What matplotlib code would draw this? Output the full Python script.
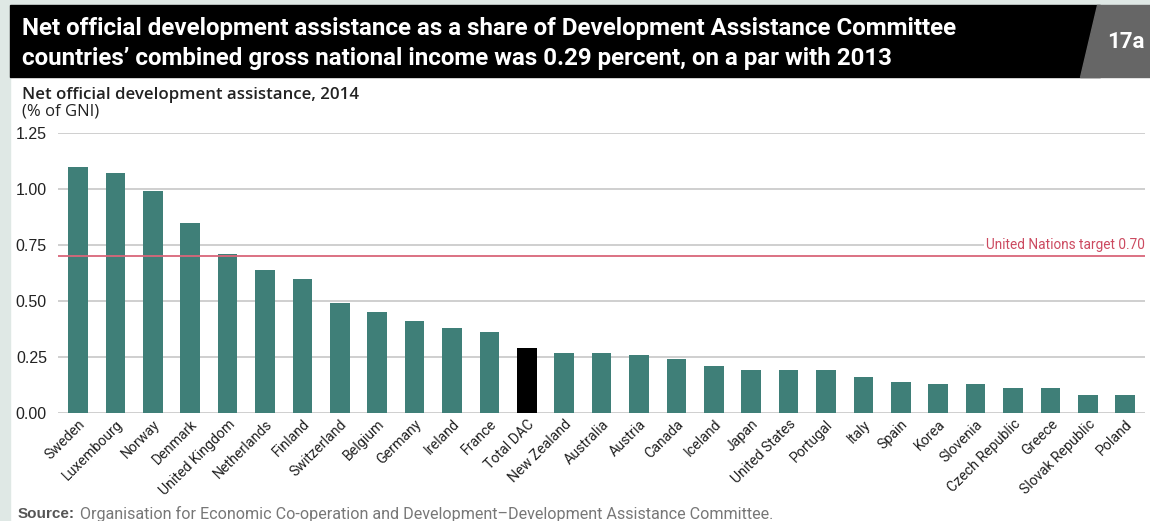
import matplotlib
matplotlib.use("Agg")
import matplotlib.pyplot as plt
from matplotlib.patches import Rectangle, Polygon

countries = ["Sweden", "Luxembourg", "Norway", "Denmark", "United Kingdom", "Netherlands",
             "Finland", "Switzerland", "Belgium", "Germany", "Ireland", "France", "Total DAC",
             "New Zealand", "Australia", "Austria", "Canada", "Iceland", "Japan", "United States",
             "Portugal", "Italy", "Spain", "Korea", "Slovenia", "Czech Republic", "Greece",
             "Slovak Republic", "Poland"]
values = [1.10, 1.07, 0.99, 0.85, 0.71, 0.64, 0.60, 0.49, 0.45, 0.41, 0.38, 0.36, 0.29,
          0.27, 0.27, 0.26, 0.24, 0.21, 0.19, 0.19, 0.19, 0.16, 0.14, 0.13, 0.13, 0.11, 0.11,
          0.08, 0.08]
highlight = "Total DAC"
un_target = 0.70
yticks = [0.00, 0.25, 0.50, 0.75, 1.00, 1.25]

W, H = 1150, 521
fig = plt.figure(figsize=(W / 100, H / 100), dpi=100)
fig.patch.set_facecolor("white")

def px(x, y):
    return x / W, 1 - y / H

# left stripe
fig.add_artist(Rectangle((0, 0), 10 / W, 1, transform=fig.transFigure, color="#dfe8e5", zorder=0))
fig.add_artist(Rectangle((0, 1 - 5 / H), 1, 5 / H, transform=fig.transFigure, color="#dfe8e5", zorder=0))
# title band
fig.add_artist(Rectangle(px(10, 77), 1090 / W, 72 / H, transform=fig.transFigure, color="black", zorder=1))
fig.add_artist(Polygon([px(1097, 5), px(1150, 5), px(1150, 77), px(1080, 77)], closed=True,
                       transform=fig.transFigure, color="#666666", zorder=2))

narrow = ["Roboto", "DejaVu Sans"]
arial = ["Liberation Sans", "DejaVu Sans"]
wide = ["Open Sans", "DejaVu Sans"]
fig.text(*px(22, 28), "Net official development assistance as a share of Development Assistance Committee",
         color="white", fontsize=17.4, fontweight="bold", family=narrow, va="center", ha="left", zorder=3)
fig.text(*px(22, 59), "countries\u2019 combined gross national income was 0.29 percent, on a par with 2013",
         color="white", fontsize=17.4, fontweight="bold", family=narrow, va="center", ha="left", zorder=3)
fig.text(*px(1126, 42), "17a", color="white", fontsize=16, fontweight="bold", family=narrow,
         va="center", ha="center", zorder=3)

fig.text(*px(22, 95), "Net official development assistance, 2014", fontsize=12.2, fontweight="semibold",
         family=wide, color="#222222", va="center", ha="left")
fig.text(*px(22, 112), "(% of GNI)", fontsize=12, family=wide,
         color="#222222", va="center", ha="left")

ax = fig.add_axes([58 / W, 108 / H, (1145 - 58) / W, (413 - 133) / H])
x = list(range(len(countries)))
colors = ["black" if c == highlight else "#3f7f78" for c in countries]
ax.bar(x, values, width=0.52, color=colors, zorder=3)
ax.set_ylim(0, 1.25)
ax.set_xlim(-0.535, len(countries) - 1 + 0.53)
ax.set_yticks(yticks)
ax.set_yticklabels([f"{v:.2f}" for v in yticks], fontsize=11.5, family=arial, color="#222222")
ax.yaxis.grid(True, color="#cccccc", lw=1.3, zorder=0)
ax.set_axisbelow(True)
for s in ax.spines.values():
    s.set_visible(False)
ax.tick_params(axis="y", length=0, pad=8)
ax.tick_params(axis="x", length=0, pad=3)
ax.set_xticks(x)
ax.set_xticklabels(countries, rotation=45, ha="right", rotation_mode="anchor", fontsize=10.2,
                   family=narrow, color="#222222")
ax.axhline(un_target, color="#d9667a", lw=1.3, zorder=6)
ax.text(1.0, un_target + 0.02, "United Nations target 0.70", transform=ax.get_yaxis_transform(),
        ha="right", va="bottom", color="#cc4a60", fontsize=9.8, family=narrow,
        bbox=dict(facecolor="white", edgecolor="none", pad=1.5), zorder=5)

fig.text(*px(18, 514), "Source:", fontsize=11, fontweight="bold", color="#555555",
         family=arial, va="center", ha="left")
fig.text(*px(80, 514), "Organisation for Economic Co-operation and Development\u2013Development Assistance Committee.",
         fontsize=11.6, color="#777777", family=narrow, va="center", ha="left")

fig.savefig("out.png", dpi=100)
